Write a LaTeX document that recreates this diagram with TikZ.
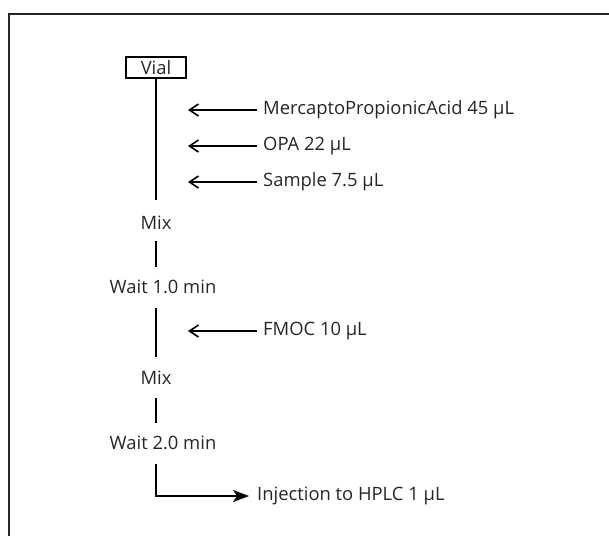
\documentclass[tikz,border=0pt]{standalone}
\usepackage{fontspec}
\setmainfont{Open Sans}
\usetikzlibrary{arrows.meta}
\begin{document}
\begin{tikzpicture}[x=1pt,y=-1pt,
  lbl/.style={font=\fontsize{18.4}{21}\selectfont, inner sep=0pt, text=black!85},
  flow/.style={line width=1.8pt},
  addarrow/.style={line width=1.6pt, -{Straight Barb[length=9pt,width=12pt,line width=1.6pt]}},
  injarrow/.style={line width=1.8pt, -{Stealth[length=16pt,width=12pt,inset=4pt]}}]
\useasboundingbox (0,0) rectangle (609,536);
\draw[line width=1.5pt, black!85] (609,14) -- (9,14) -- (9,536);
\node[draw, line width=1.2pt, lbl, minimum width=60pt, minimum height=21pt] (vial) at (156,67.5) {Vial};
\coordinate (v1) at (156,200);
\draw[flow] (vial.south) -- (v1);
\node[lbl, anchor=west] (mpa) at (263,110) {MercaptoPropionicAcid 45 µL};
\node[lbl, anchor=west] (opa) at (263,146) {OPA 22 µL};
\node[lbl, anchor=west] (smp) at (263,182) {Sample 7.5 µL};
\coordinate (t1) at (188,110);
\coordinate (t2) at (188,146);
\coordinate (t3) at (188,182);
\draw[addarrow] (mpa.west) ++(-6,0) -- (t1);
\draw[addarrow] (opa.west) ++(-6,0) -- (t2);
\draw[addarrow] (smp.west) ++(-6,0) -- (t3);
\node[lbl] (mix1) at (156,223) {Mix};
\coordinate (a1) at (156,241);
\coordinate (a2) at (156,267);
\draw[flow] (a1) -- (a2);
\node[lbl] (w1) at (163,287) {Wait 1.0 min};
\coordinate (b1) at (156,308);
\coordinate (b2) at (156,357);
\draw[flow] (b1) -- (b2);
\node[lbl, anchor=west] (fmoc) at (263,331) {FMOC 10 µL};
\coordinate (t4) at (188,331);
\draw[addarrow] (fmoc.west) ++(-6,0) -- (t4);
\node[lbl] (mix2) at (156,378) {Mix};
\coordinate (c1) at (156,398);
\coordinate (c2) at (156,423);
\draw[flow] (c1) -- (c2);
\node[lbl] (w2) at (163,443) {Wait 2.0 min};
\coordinate (d1) at (156,464);
\node[lbl, anchor=west] (inj) at (257,496) {Injection to HPLC 1 µL};
\coordinate (d2) at (249,496);
\draw[injarrow] (d1) |- (d2);
\end{tikzpicture}
\end{document}
